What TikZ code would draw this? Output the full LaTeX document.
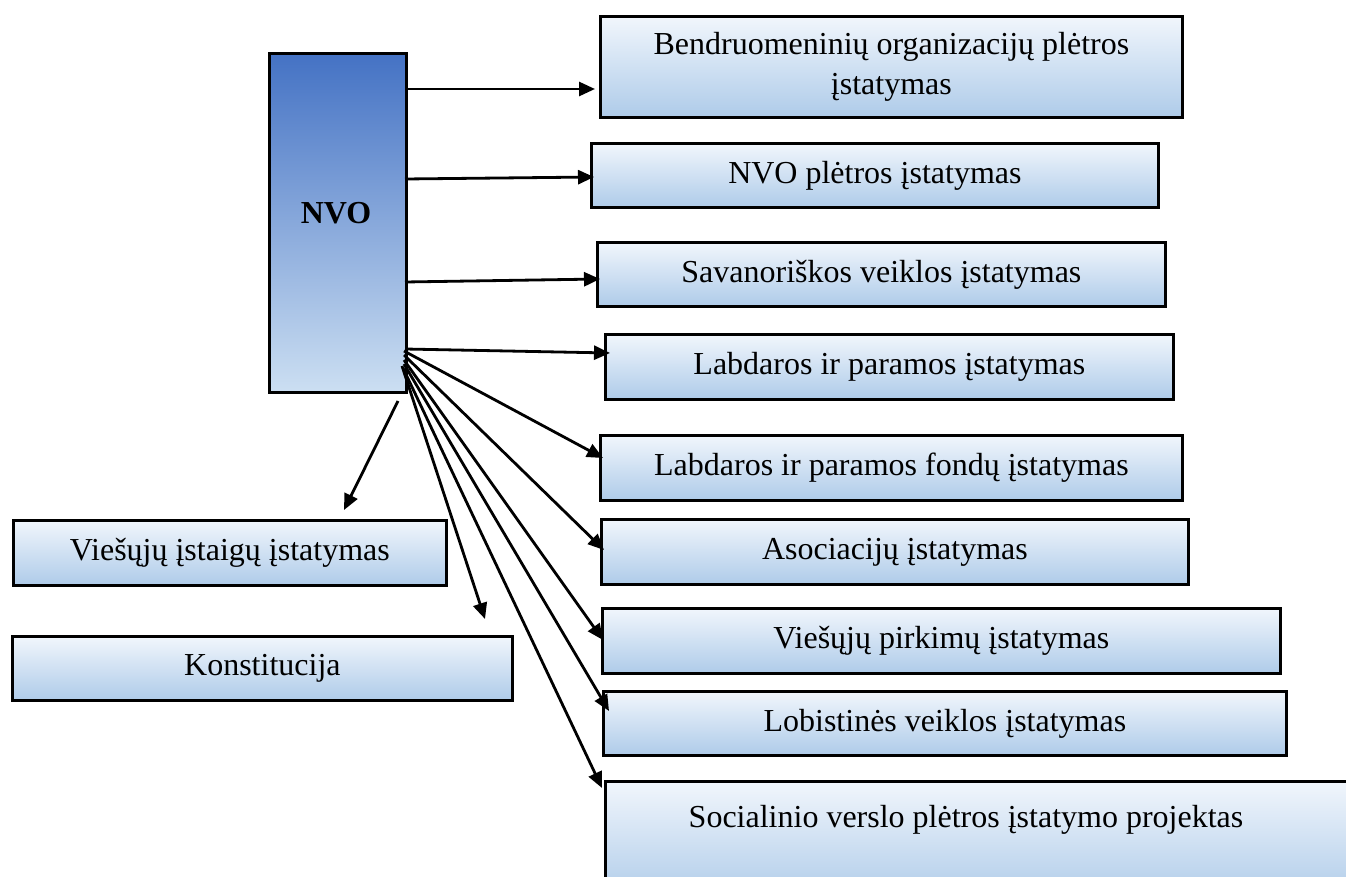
\documentclass[tikz,border=0pt]{standalone}
\usepackage{fontspec}
\setmainfont{Liberation Serif}
\usetikzlibrary{arrows.meta}
\definecolor{boxtop}{RGB}{241,246,252}
\definecolor{boxbot}{RGB}{174,203,233}
\definecolor{nvotop}{RGB}{68,114,196}
\definecolor{nvobot}{RGB}{204,223,242}
\tikzset{
  lawbox/.style={draw=black, line width=2.8pt, top color=boxtop, bottom color=boxbot,
    anchor=north west, inner sep=0pt, align=center,
    font=\fontsize{32}{40}\selectfont},
  lawtext/.style={inner sep=0pt, align=center, font=\fontsize{32}{40}\selectfont},
  link/.style={line width=2.8pt, -{Triangle[length=16pt,width=14pt]}}
}
\begin{document}
\begin{tikzpicture}[x=1pt,y=-1pt]
\useasboundingbox (0,0) rectangle (1346,877);
\clip (0,0) rectangle (1346,877);
% central box
\node[draw=black, line width=2.8pt, top color=nvotop, bottom color=nvobot, anchor=north west,
  minimum width=137pt, minimum height=339pt, inner sep=0pt] (nvo) at (268,52) {};
\node[font=\fontsize{32}{36}\selectfont\bfseries, inner sep=0pt] (nvol) at (336,213) {NVO};
% right boxes
\node[lawbox, minimum width=582pt, minimum height=101pt] (b1) at (599,15)
  {Bendruomeninių organizacijų plėtros\\įstatymas};
\node[lawbox, minimum width=567pt, minimum height=64pt] (b2) at (590,142) {NVO plėtros įstatymas};
\node[lawbox, minimum width=568pt, minimum height=64pt] (b3) at (596,241) {Savanoriškos veiklos įstatymas};
\node[lawbox, minimum width=568pt, minimum height=65pt] (b4) at (604,333) {Labdaros ir paramos įstatymas};
\node[lawbox, minimum width=582pt, minimum height=65pt] (b5) at (599,434) {Labdaros ir paramos fondų įstatymas};
\node[lawbox, minimum width=587pt, minimum height=65pt] (b6) at (600,518) {Asociacijų įstatymas};
\node[lawbox, minimum width=678pt, minimum height=65pt] (b7) at (601,607) {Viešųjų pirkimų įstatymas};
\node[lawbox, minimum width=683pt, minimum height=64pt] (b8) at (602,690) {Lobistinės veiklos įstatymas};
\node[lawbox, minimum width=780pt, minimum height=120pt] (b9) at (604,780) {};
\node[lawtext] (b9t) at (966,820) {Socialinio verslo plėtros įstatymo projektas};
% left boxes
\node[lawbox, minimum width=433pt, minimum height=65pt] (l1) at (12,519) {Viešųjų įstaigų įstatymas};
\node[lawbox, minimum width=500pt, minimum height=64pt] (l2) at (11,635) {Konstitucija};
% connector points
\coordinate (s1) at (405,89);
\coordinate (s2) at (405,179);
\coordinate (s3) at (405,282);
\coordinate (s4) at (405,349);
\coordinate (s5) at (404,351);
\coordinate (s6) at (404,355);
\coordinate (s7) at (404,360);
\coordinate (s8) at (404,364);
\coordinate (s9) at (403,368);
\coordinate (s10) at (398,401);
\coordinate (s11) at (402,366);
\coordinate (t1) at (595,89);
\coordinate (t2) at (594,177);
\coordinate (t3) at (600,279);
\coordinate (t4) at (610,353);
\coordinate (t5) at (603,458);
\coordinate (t6) at (604,550);
\coordinate (t7) at (603,640);
\coordinate (t8) at (609,711);
\coordinate (t9) at (602,788);
\coordinate (t10) at (344,510);
\coordinate (t11) at (485,619);
\draw[link] (s1) -- (t1);
\draw[link] (s2) -- (t2);
\draw[link] (s3) -- (t3);
\draw[link] (s4) -- (t4);
\draw[link] (s5) -- (t5);
\draw[link] (s6) -- (t6);
\draw[link] (s7) -- (t7);
\draw[link] (s8) -- (t8);
\draw[link] (s9) -- (t9);
\draw[link] (s10) -- (t10);
\draw[link] (s11) -- (t11);
\end{tikzpicture}
\end{document}
